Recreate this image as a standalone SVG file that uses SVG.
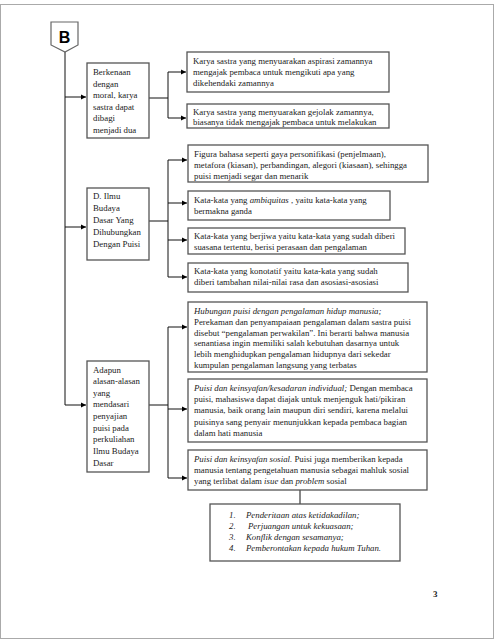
<svg xmlns="http://www.w3.org/2000/svg" width="495" height="640" viewBox="0 0 495 640">
<defs>
<marker id="ah" markerWidth="6" markerHeight="6" refX="5" refY="3" orient="auto" markerUnits="userSpaceOnUse">
<path d="M0,0.5 L5,3 L0,5.5 Z" fill="#000"/>
</marker>
<style>
.bx{fill:#fff;stroke:#555;stroke-width:1.3}
.t{font-family:"Liberation Serif","Times New Roman",serif;font-size:8.8px;fill:#1a1a1a}
.i{font-style:italic}
.c{fill:none;stroke:#111;stroke-width:1}
.a{fill:none;stroke:#111;stroke-width:1;marker-end:url(#ah)}
</style>
</defs>
<rect x="0.5" y="4.5" width="493" height="634" fill="#fff" stroke="#aaa" stroke-width="1"/>

<g id="connectors">
<path class="c" d="M65,52 V405"/>
<path class="a" d="M65,97 H86"/>
<path class="a" d="M65,227 H86"/>
<path class="a" d="M65,405 H86"/>
<path class="c" d="M149,98 H168 M168,72 V118"/>
<path class="a" d="M168,72 H186"/>
<path class="a" d="M168,118 H186"/>
<path class="c" d="M149,221 H168 M168,160 V277"/>
<path class="a" d="M168,160 H187"/>
<path class="a" d="M168,203 H187"/>
<path class="a" d="M168,240 H187"/>
<path class="a" d="M168,277 H187"/>
<path class="c" d="M149,405 H168 M168,327 V478"/>
<path class="a" d="M168,327 H187"/>
<path class="a" d="M168,409 H187"/>
<path class="a" d="M168,478 H187"/>
<path class="c" d="M300,490 V504"/>
</g>

<g id="nodeB">
<path d="M51,22 H78 V45 L65,52 L51,45 Z" fill="#fff" stroke="#666" stroke-width="1.2"/>
<text x="64.5" y="43" text-anchor="middle" style="font-family:'Liberation Sans',Arial,sans-serif;font-size:16px;font-weight:bold;fill:#000">B</text>
</g>

<g id="box1">
<rect class="bx" x="87" y="63" width="62" height="75"/>
<text class="t"><tspan x="93" y="75">Berkenaan</tspan><tspan x="93" y="87">dengan</tspan><tspan x="93" y="98">moral, karya</tspan><tspan x="93" y="110">sastra dapat</tspan><tspan x="93" y="121">dibagi</tspan><tspan x="93" y="133">menjadi dua</tspan></text>
</g>

<g id="box2a">
<rect class="bx" x="187" y="52" width="202" height="40"/>
<text class="t"><tspan x="193" y="64">Karya sastra yang menyuarakan aspirasi zamannya</tspan><tspan x="193" y="75">mengajak pembaca untuk mengikuti apa yang</tspan><tspan x="193" y="86">dikehendaki zamannya</tspan></text>
</g>

<g id="box2b">
<rect class="bx" x="187" y="104" width="202" height="24"/>
<text class="t"><tspan x="193" y="115">Karya sastra yang menyuarakan gejolak zamannya,</tspan><tspan x="193" y="125">biasanya tidak mengajak pembaca untuk melakukan</tspan></text>
</g>

<g id="boxD">
<rect class="bx" x="87" y="188" width="62" height="72"/>
<text class="t"><tspan x="93" y="199">D. Ilmu</tspan><tspan x="93" y="211">Budaya</tspan><tspan x="93" y="223">Dasar Yang</tspan><tspan x="93" y="235">Dihubungkan</tspan><tspan x="93" y="247">Dengan Puisi</tspan></text>
</g>

<g id="box3a">
<rect class="bx" x="188" y="145" width="240" height="37"/>
<text class="t"><tspan x="194" y="157">Figura bahasa seperti gaya personifikasi (penjelmaan),</tspan><tspan x="194" y="168">metafora (kiasan),  perbandingan, alegori (kiasaan), sehingga</tspan><tspan x="194" y="179">puisi menjadi segar dan menarik</tspan></text>
</g>

<g id="box3b">
<rect class="bx" x="188" y="191" width="202" height="29"/>
<text class="t"><tspan x="194" y="203">Kata-kata yang <tspan class="i">ambiquitas</tspan> , yaitu kata-kata yang</tspan><tspan x="194" y="214">bermakna ganda</tspan></text>
</g>

<g id="box3c">
<rect class="bx" x="188" y="228" width="217" height="26"/>
<text class="t"><tspan x="194" y="239">Kata-kata yang berjiwa yaitu kata-kata yang sudah diberi</tspan><tspan x="194" y="250">suasana tertentu, berisi   perasaan dan pengalaman</tspan></text>
</g>

<g id="box3d">
<rect class="bx" x="188" y="263" width="220" height="29"/>
<text class="t"><tspan x="194" y="274">Kata-kata yang konotatif yaitu kata-kata yang sudah</tspan><tspan x="194" y="285">diberi tambahan  nilai-nilai  rasa dan asosiasi-asosiasi</tspan></text>
</g>

<g id="boxAdapun">
<rect class="bx" x="87" y="361" width="62" height="111"/>
<text class="t"><tspan x="93" y="373">Adapun</tspan><tspan x="93" y="384">alasan-alasan</tspan><tspan x="93" y="396">yang</tspan><tspan x="93" y="407">mendasari</tspan><tspan x="93" y="419">penyajian</tspan><tspan x="93" y="431">puisi pada</tspan><tspan x="93" y="442">perkuliahan</tspan><tspan x="93" y="454">Ilmu  Budaya</tspan><tspan x="93" y="466">Dasar</tspan></text>
</g>

<g id="box4a">
<rect class="bx" x="188" y="302" width="239" height="70"/>
<text class="t"><tspan x="194" y="314" class="i">Hubungan puisi dengan pengalaman hidup manusia;</tspan><tspan x="194" y="325">Perekaman dan penyampaiaan pengalaman dalam sastra puisi</tspan><tspan x="194" y="336">disebut “pengalaman perwakilan”. Ini berarti bahwa manusia</tspan><tspan x="194" y="346">senantiasa ingin memiliki salah kebutuhan dasarnya untuk</tspan><tspan x="194" y="357">lebih menghidupkan pengalaman hidupnya dari sekedar</tspan><tspan x="194" y="368">kumpulan pengalaman langsung yang terbatas</tspan></text>
</g>

<g id="box4b">
<rect class="bx" x="188" y="379" width="239" height="63"/>
<text class="t"><tspan x="194" y="391"><tspan class="i">Puisi dan keinsyafan/kesadaran individual;</tspan> Dengan membaca</tspan><tspan x="194" y="402">puisi, mahasiswa dapat diajak untuk menjenguk hati/pikiran</tspan><tspan x="194" y="413">manusia, baik orang lain maupun diri sendiri, karena melalui</tspan><tspan x="194" y="425">puisinya sang penyair menunjukkan kepada pembaca bagian</tspan><tspan x="194" y="436">dalam hati manusia</tspan></text>
</g>

<g id="box4c">
<rect class="bx" x="188" y="450" width="239" height="40"/>
<text class="t"><tspan x="194" y="462"><tspan class="i">Puisi dan keinsyafan sosial.</tspan> Puisi juga memberikan kepada</tspan><tspan x="194" y="473">manusia tentang pengetahuan manusia sebagai mahluk sosial</tspan><tspan x="194" y="484">yang terlibat dalam <tspan class="i">isue</tspan> dan <tspan class="i">problem</tspan> sosial</tspan></text>
</g>

<g id="boxList">
<rect class="bx" x="210" y="504" width="190" height="57"/>
<text class="t i"><tspan x="229" y="518">1.</tspan><tspan x="246" y="518">Penderitaan atas ketidakadilan;</tspan><tspan x="229" y="529">2.</tspan><tspan x="248" y="529">Perjuangan untuk kekuasaan;</tspan><tspan x="229" y="540">3.</tspan><tspan x="246" y="540">Konflik dengan sesamanya;</tspan><tspan x="229" y="551">4.</tspan><tspan x="246" y="551">Pemberontakan kepada hukum Tuhan.</tspan></text>
</g>

<text x="433" y="597" style="font-family:'Liberation Serif',serif;font-size:9px;font-weight:bold;fill:#222">3</text>
</svg>
